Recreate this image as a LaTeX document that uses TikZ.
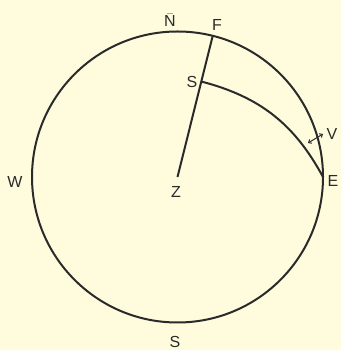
\documentclass[tikz,border=0pt]{standalone}
\usepackage{fontspec}
\setmainfont{Liberation Sans}
\usepackage{xcolor}
\usepackage{tikz}
\usetikzlibrary{arrows.meta}
\definecolor{paper}{HTML}{FEFCDD}
\definecolor{ink}{HTML}{2A2A2A}

\begin{document}
\begin{tikzpicture}[x=1pt,y=1pt,line/.style={draw=ink, line width=2pt},lbl/.style={font=\fontsize{16}{16}\selectfont, text=ink, inner sep=0pt}]
\fill[paper] (0,0) rectangle (341,350);
\useasboundingbox (0,0) rectangle (341,350);
\coordinate (z) at (177.5,173);
\coordinate (f) at ([shift={(76:145.5)}]z);
\coordinate (s) at ([shift={(76:98.4)}]z);
\coordinate (e) at ([shift={(0:145.5)}]z);
\coordinate (va) at (308,207);
\coordinate (vb) at (323,216);
\draw[line] (z) circle[radius=145.5];
\draw[line] (z) -- (f);
\draw[line] (s) to[bend left=23.5] (e);
\draw[draw=ink, line width=1pt, {Straight Barb[length=2.5pt,width=4.5pt]}-{Straight Barb[length=2.5pt,width=4.5pt]}] (va) -- (vb);
\node[lbl] (nlab) at (170,330) {\(\bar{\mbox{N}}\)};
\node[lbl] (flab) at (217,325) {F};
\node[lbl] (slab) at (192,268) {S};
\node[lbl] (vlab) at (332,216) {V};
\node[lbl] (elab) at (333,169) {E};
\node[lbl] (wlab) at (15,168) {W};
\node[lbl] (zlab) at (176,158) {Z};
\node[lbl] (sslab) at (175,8) {S};
\end{tikzpicture}
\end{document}
